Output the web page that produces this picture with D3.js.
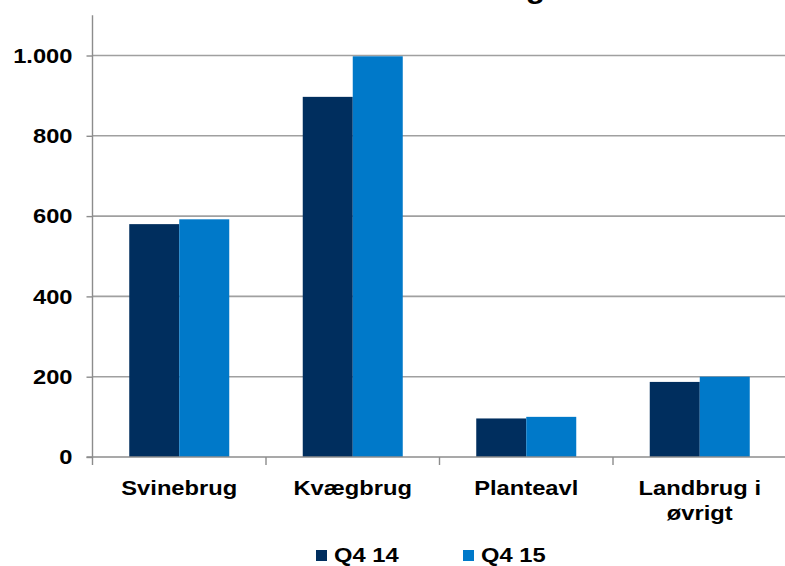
<!DOCTYPE html>
<html>
<head>
<meta charset="utf-8">
<script src="https://cdn.jsdelivr.net/npm/d3@7"></script>
<style>
  html, body { margin: 0; padding: 0; background: #fff; }
  svg { display: block; }
  text { font-family: "Liberation Sans", Arial, sans-serif; font-weight: bold; fill: #000; }
</style>
</head>
<body>
<svg id="chart" width="785" height="566"></svg>
<script>
const categories = ["Svinebrug", "Kvægbrug", "Planteavl", "Landbrug i\nøvrigt"];
const seriesNames = ["Q4 14", "Q4 15"];
const q414 = [580, 897, 96, 187];
const q415 = [592, 998, 100, 200];
const yTicks = [0, 200, 400, 600, 800, 1000];
const titleText = "Landbrug";
const colors = ["#002E5E", "#0079C9"];

const W = 785, H = 566;
const margin = { left: 92.5 };
const svg = d3.select("#chart");
const sx = 1.13;
const fmt = d => d3.format(",")(d).replace(/,/g, ".");

const x = d3.scaleBand().domain(categories).range([margin.left, W + 1.5]).paddingInner(0).paddingOuter(0);
const y = d3.scaleLinear().domain([0, 1100]).range([457, 457 - 1100 * 0.4015]);
const xs = d3.scaleBand().domain(seriesNames).range([0, x.bandwidth()]).paddingInner(0).paddingOuter(0.735);

// title (clipped at top)
svg.append("text").attr("transform", `translate(545,-2) scale(${sx},1)`)
  .attr("text-anchor", "end").style("font-size", "28px").text(titleText);

// gridlines
svg.append("g").selectAll("line").data(yTicks.filter(d => d > 0)).join("line")
  .attr("x1", margin.left).attr("x2", W).attr("y1", d => y(d)).attr("y2", d => y(d))
  .attr("stroke", "#a0a0a0").attr("stroke-width", 1.6);

// bars
const data = categories.map((c, i) => ({ c, vals: [q414[i], q415[i]] }));
const groups = svg.append("g").selectAll("g").data(data).join("g")
  .attr("transform", d => `translate(${x(d.c)},0)`);
groups.selectAll("rect").data(d => d.vals.map((v, j) => ({ v, s: seriesNames[j], j }))).join("rect")
  .attr("x", d => xs(d.s)).attr("width", xs.bandwidth())
  .attr("y", d => y(d.v)).attr("height", d => y(0) - y(d.v))
  .attr("fill", d => colors[d.j]);

// y axis
const yAxis = d3.axisLeft(y).tickValues(yTicks).tickSize(6).tickPadding(14).tickFormat(fmt);
const ya = svg.append("g").attr("transform", `translate(${margin.left},0)`).call(yAxis);
ya.select(".domain").remove();
ya.selectAll(".tick line").attr("stroke", "#8c8c8c").attr("stroke-width", 1.4);
ya.selectAll(".tick text").attr("transform", `scale(${sx},1)`).attr("x", -20 / sx)
  .style("font-size", "21px").attr("fill", "#000");
svg.append("line").attr("x1", margin.left).attr("x2", margin.left).attr("y1", y(1100)).attr("y2", y(0) + 8)
  .attr("stroke", "#8c8c8c").attr("stroke-width", 1.4);

// x axis
svg.append("line").attr("x1", margin.left - 6).attr("x2", W).attr("y1", y(0)).attr("y2", y(0))
  .attr("stroke", "#8c8c8c").attr("stroke-width", 1.6);
svg.append("g").selectAll("line").data(categories.slice(1)).join("line")
  .attr("x1", d => x(d)).attr("x2", d => x(d)).attr("y1", y(0)).attr("y2", y(0) + 8)
  .attr("stroke", "#8c8c8c").attr("stroke-width", 1.4);

const lab = svg.append("g").selectAll("text").data(categories).join("text")
  .attr("transform", d => `translate(${x(d) + x.bandwidth() / 2},495) scale(${sx},1)`)
  .attr("text-anchor", "middle").style("font-size", "21px");
lab.selectAll("tspan").data(d => d.split("\n")).join("tspan")
  .attr("x", 0).attr("dy", (d, i) => i === 0 ? 0 : 25).text(d => d);

// legend
const legX = [316, 463];
const leg = svg.append("g").selectAll("g").data(seriesNames).join("g")
  .attr("transform", (d, i) => `translate(${legX[i]},0)`);
leg.append("rect").attr("x", 0).attr("y", 550).attr("width", 11).attr("height", 11)
  .attr("fill", (d, i) => colors[i]);
leg.append("text").attr("transform", `translate(18,561.5) scale(${sx},1)`)
  .style("font-size", "21px").text(d => d);
</script>
</body>
</html>
